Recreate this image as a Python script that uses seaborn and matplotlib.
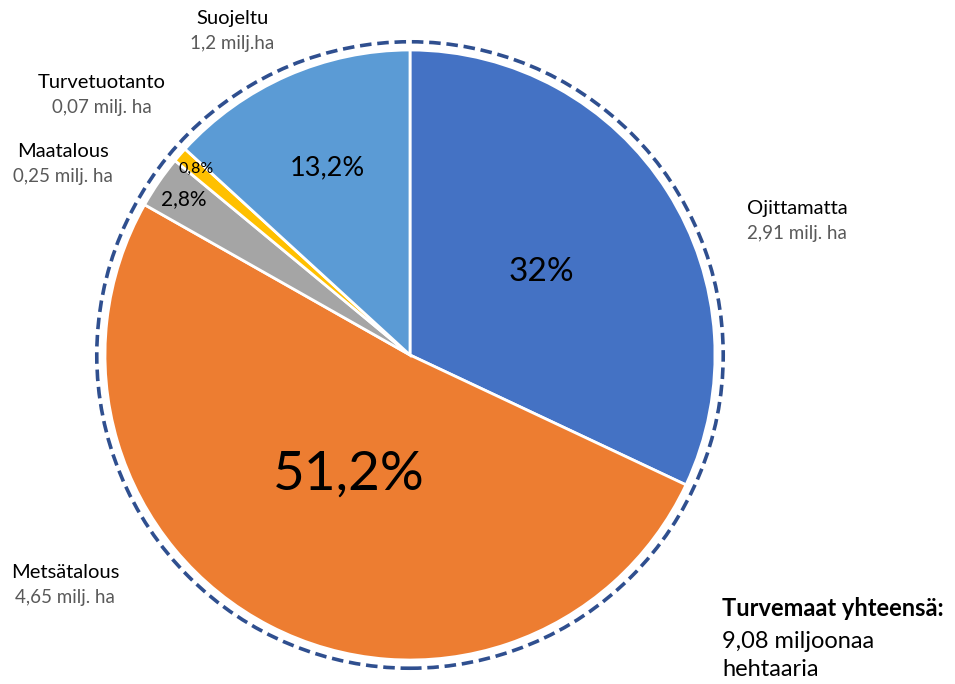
import numpy as np
import seaborn as sns
import matplotlib.pyplot as plt
from matplotlib.patches import Circle

# data
categories = ['Ojittamatta', 'Metsätalous', 'Maatalous', 'Turvetuotanto', 'Suojeltu']
shares = [32.0, 51.2, 2.8, 0.8, 13.2]
pct_labels = ['32%', '51,2%', '2,8%', '0,8%', '13,2%']
area_labels = ['2,91 milj. ha', '4,65 milj. ha', '0,25 milj. ha', '0,07 milj. ha', '1,2 milj.ha']
colors = ['#4472C4', '#ED7D31', '#A5A5A5', '#FFC000', '#5B9BD5']

sns.set_theme(style='white')
plt.rcParams['font.family'] = ['Lato', 'DejaVu Sans']

W, H = 955, 684
cx, cy, R = 410, 355, 305

fig = plt.figure(figsize=(W / 100, H / 100), dpi=100)
ax = fig.add_axes([0, 0, 1, 1])

wedges, _ = ax.pie(shares, colors=sns.color_palette(colors), startangle=90,
                   counterclock=False, radius=1,
                   wedgeprops={'edgecolor': 'white', 'linewidth': 2})

ax.set_xlim(-cx / R, (W - cx) / R)
ax.set_ylim(-(H - cy) / R, cy / R)
ax.axis('off')

# dashed outline around the pie
ax.add_patch(Circle((0, 0), 1.027, fill=False, edgecolor='#2F4F8F',
                    linewidth=2.6, linestyle=(0, (3.2, 1.6))))

# percentage labels inside slices
pct_dist = [0.51, 0.44, 0.90, 0.93, 0.67]
pct_size = [24, 39.5, 15, 11.5, 19.5]
for w, lab, d, fs in zip(wedges, pct_labels, pct_dist, pct_size):
    ang = np.deg2rad((w.theta1 + w.theta2) / 2)
    ax.text(d * np.cos(ang), d * np.sin(ang), lab, ha='center', va='center',
            fontsize=fs, color='black')

# outer category labels (pixel positions of the label centres)
label_pos = [(797, 209), (65, 572), (63, 152), (102, 83), (232, 19)]
for (px, py), name, area in zip(label_pos, categories, area_labels):
    ax.text((px - cx) / R, (cy - py) / R, name, ha='center', va='center',
            fontsize=14.5, color='black')
    ax.text((px - cx) / R, (cy - py - 25) / R, area, ha='center', va='center',
            fontsize=13.5, color='#595959')

fig.text(722 / W, 1 - 609 / H, 'Turvemaat yhteensä:', ha='left', va='center',
         fontsize=17, fontweight='bold', color='black')
fig.text(722 / W, 1 - 641 / H, '9,08 miljoonaa', ha='left', va='center',
         fontsize=17, color='black')
fig.text(722 / W, 1 - 669 / H, 'hehtaaria', ha='left', va='center',
         fontsize=17, color='black')

fig.savefig('out.png', dpi=100)
